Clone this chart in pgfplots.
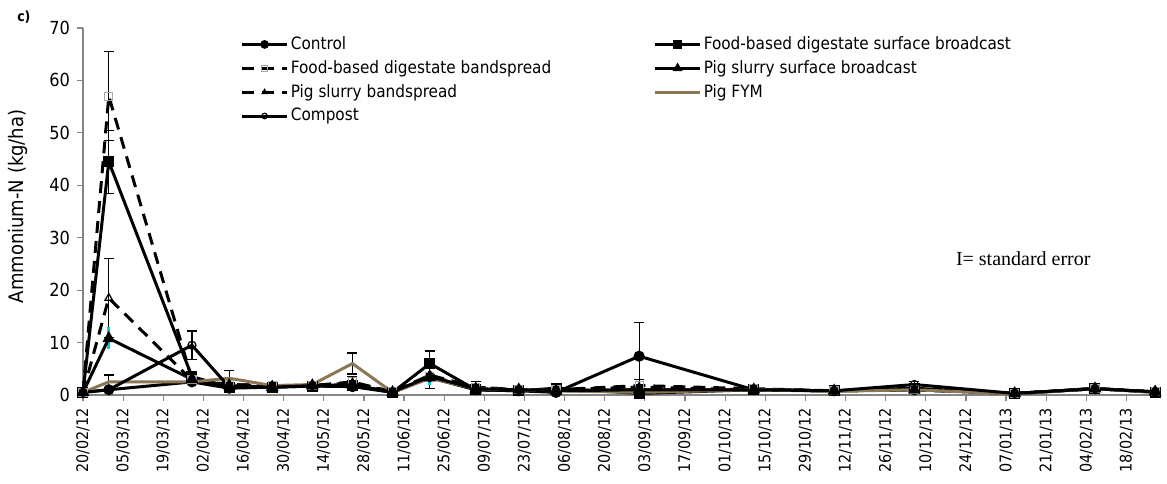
\documentclass[border=0pt]{standalone}
\usepackage{fontspec}
\setmainfont{DejaVu Sans Condensed}
\newfontfamily\timesfont{Liberation Serif}
\usepackage{pgfplots}
\pgfplotsset{compat=1.18}
\definecolor{fym}{RGB}{139,119,85}
\definecolor{axgray}{RGB}{134,134,134}
\definecolor{errcyan}{RGB}{0,204,230}

% day 0 = 20/02/12
\pgfplotstableread{
x y
0 0.5
9 1.0
38 2.5
51 1.3
66 1.5
80 1.7
94 1.6
108 0.5
121 3.5
137 1.0
152 0.8
165 0.5
194 7.4
234 1.0
262 0.8
290 1.0
325 0.3
353 1.2
374 0.6
}\control
\pgfplotstableread{
x y
0 0.5
9 44.5
38 3.5
51 1.5
66 1.5
80 1.7
94 1.8
108 0.5
121 6.0
137 1.0
152 0.8
165 1.3
194 0.3
234 1.0
262 0.8
290 1.3
325 0.2
353 1.3
374 0.5
}\foodsb
\pgfplotstableread{
x y
0 0.5
9 57.0
38 3.0
51 2.0
66 1.8
80 1.8
94 2.5
108 0.6
121 3.5
137 1.5
152 1.0
165 1.0
194 1.8
234 1.2
262 0.8
290 1.0
325 0.3
353 1.2
374 0.6
}\foodbs
\pgfplotstableread{
x y
0 0.5
9 10.8
38 3.0
51 1.8
66 1.5
80 1.8
94 2.0
108 0.5
121 3.3
137 1.0
152 1.0
165 0.8
194 1.0
234 1.0
262 0.8
290 1.0
325 0.3
353 1.2
374 0.6
}\pigsb
\pgfplotstableread{
x y
0 0.5
9 18.5
38 2.8
51 2.0
66 1.8
80 1.8
94 2.3
108 0.6
121 3.8
137 1.5
152 1.0
165 1.0
194 1.5
234 1.0
262 0.8
290 1.0
325 0.3
353 1.2
374 0.6
}\pigbs
\pgfplotstableread{
x y
0 0.5
9 2.5
38 2.5
51 3.2
66 1.8
80 2.0
94 6.0
108 0.5
121 3.2
137 1.2
152 1.0
165 0.8
194 0.5
234 1.0
262 0.7
290 1.0
325 0.2
353 1.2
374 0.5
}\pigfym
\pgfplotstableread{
x y
0 0.5
9 1.0
38 9.5
51 1.5
66 1.5
80 1.8
94 1.8
108 0.6
121 3.5
137 1.2
152 1.0
165 0.8
194 1.0
234 1.0
262 0.8
290 2.0
325 0.3
353 1.2
374 0.6
}\compost

\begin{document}
\begin{tikzpicture}
\useasboundingbox (-41.5pt,-44pt) rectangle (542pt,197.5pt);
\begin{axis}[
  scale only axis, width=537.5pt, height=183.5pt,
  xmin=0, xmax=375, ymin=0, ymax=70,
  axis lines*=left,
  axis line style={axgray, line width=0.6pt},
  tick style={axgray, line width=0.6pt},
  tick align=outside, major tick length=3pt,
  ytick={0,10,...,70},
  xtick={0,14,...,364},
  xticklabels={20/02/12,05/03/12,19/03/12,02/04/12,16/04/12,30/04/12,14/05/12,28/05/12,11/06/12,25/06/12,09/07/12,23/07/12,06/08/12,20/08/12,03/09/12,17/09/12,01/10/12,15/10/12,29/10/12,12/11/12,26/11/12,10/12/12,24/12/12,07/01/13,21/01/13,04/02/13,18/02/13},
  x tick label style={rotate=90, anchor=east, font=\fontsize{8}{9}\selectfont},
  y tick label style={font=\fontsize{9}{10}\selectfont},
  /pgf/number format/assume math mode=true,
  ylabel={Ammonium-N (kg/ha)},
  every axis y label/.style={at={(axis description cs:-0.0605,0.514)}, rotate=90, anchor=center, font=\fontsize{10}{12}\selectfont},
  legend columns=2,
  legend cell align=left,
  legend style={draw=none, fill=none, at={(0.146,0.989)}, anchor=north west,
    font=\fontsize{8.5}{9.5}\selectfont, row sep=0pt, inner sep=0pt,
    nodes={inner xsep=1pt, inner ysep=2pt},
    /tikz/every even column/.append style={column sep=50pt}},
  legend image code/.code={\draw[mark repeat=2,mark phase=2,#1] plot coordinates {(0cm,0cm) (0.4cm,0cm) (0.8cm,0cm)};},
  legend image post style={mark size=1.4pt},
  every axis plot/.append style={line width=1.5pt},
  clip=false,
]
% error bars (black, both directions)
\addplot[forget plot, draw=none, mark=none,
  error bars/.cd, y dir=both, y explicit,
  error bar style={draw=black, line width=0.6pt, solid},
  error mark options={rotate=90, mark size=2.5pt, draw=black, line width=0.6pt, solid}]
  coordinates {
  (9,57.0) +- (0,8.5)
  (9,44.5) +- (0,6.0)
  (9,18.5) +- (0,7.5)
  (38,9.5) +- (0,2.7)
  (94,6.0) +- (0,2.0)
  (121,6.0) +- (0,2.4)
  (121,3.8) +- (0,2.6)
  (194,7.4) +- (0,6.4)
  };
% error bars (black, upward)
\addplot[forget plot, draw=none, mark=none,
  error bars/.cd, y dir=plus, y explicit,
  error bar style={draw=black, line width=0.6pt, solid},
  error mark options={rotate=90, mark size=2.5pt, draw=black, line width=0.6pt, solid}]
  coordinates {
  (9,1.0) +- (0,2.8)
  (51,3.2) +- (0,1.4)
  (66,1.8) +- (0,0.6)
  (94,2.3) +- (0,1.3)
  (137,1.5) +- (0,1.0)
  (194,1.8) +- (0,1.2)
  (290,2.0) +- (0,0.5)
  };

\addplot[black, mark=*, mark size=2pt] table[x=x,y=y]{\control};
\addlegendentry{Control}
\addplot[black, mark=square*, mark size=2pt] table[x=x,y=y]{\foodsb};
\addlegendentry{Food-based digestate surface broadcast}
\addplot[black, dash pattern=on 6pt off 4pt, mark=square, mark size=2pt, mark options={solid, draw=gray!70, fill=white, line width=0.6pt}] table[x=x,y=y]{\foodbs};
\addlegendentry{Food-based digestate bandspread}
% cyan standard-error bars of pig slurry surface broadcast (mean +- se)
\addplot[forget plot, errcyan, line width=1.5pt, no marks] coordinates {(9,8.7) (9,12.9)};
\addplot[forget plot, errcyan, line width=1.5pt, no marks] coordinates {(121,1.9) (121,4.5)};
\addplot[black, mark=triangle*, mark size=2.2pt] table[x=x,y=y]{\pigsb};
\addlegendentry{Pig slurry surface broadcast}
\addplot[black, dash pattern=on 6pt off 4pt, mark=triangle, mark size=2.2pt, mark options={solid, fill=white, line width=0.6pt}] table[x=x,y=y]{\pigbs};
\addlegendentry{Pig slurry bandspread}
\addplot[fym, no marks] table[x=x,y=y]{\pigfym};
\addlegendentry{Pig FYM}
\addplot[black, mark=o, mark size=2pt, mark options={fill=white, line width=0.6pt}] table[x=x,y=y]{\compost};
\addlegendentry{Compost}

\node[font=\timesfont\fontsize{10}{12}\selectfont] at (axis cs:328,26) {I= standard error};
\node[font=\bfseries\fontsize{7}{8}\selectfont] at (rel axis cs:-0.055,1.03) {c)};
\end{axis}
\end{tikzpicture}
\end{document}
